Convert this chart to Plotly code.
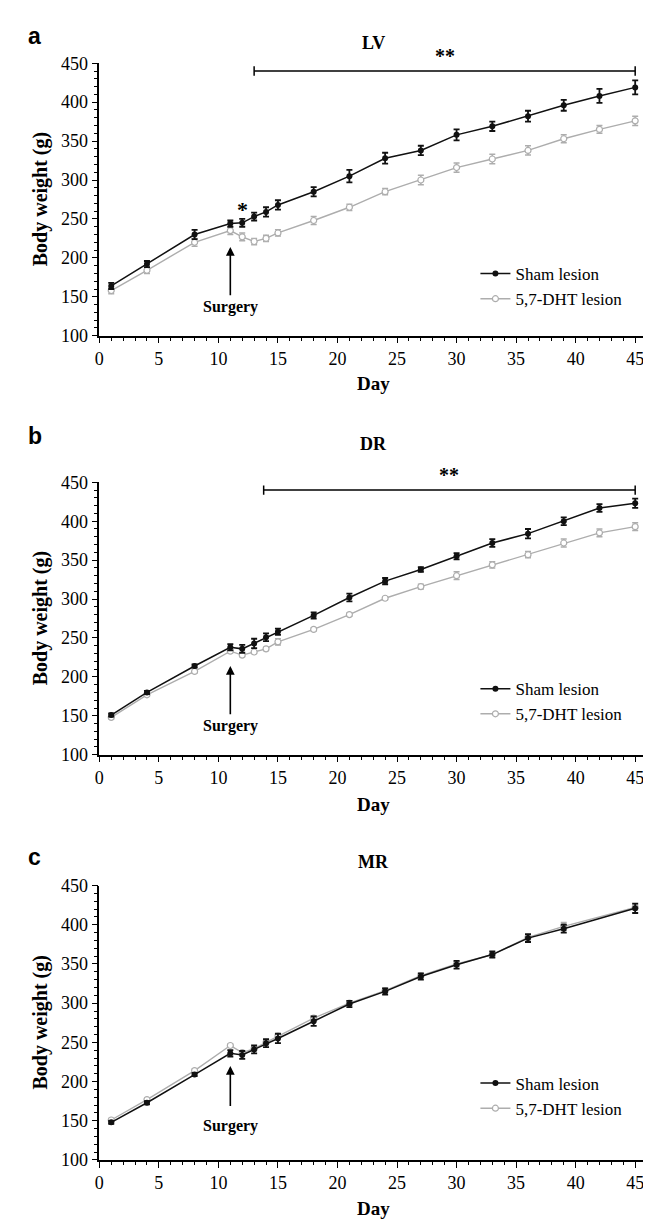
import plotly.graph_objects as go

W, H = 651, 1222

# ---------------- data ----------------
days_ab = [1, 4, 8, 11, 12, 13, 14, 15, 18, 21, 24, 27, 30, 33, 36, 39, 42, 45]
days_c = [1, 4, 8, 11, 12, 13, 14, 15, 18, 21, 24, 27, 30, 33, 36, 39, 45]

sham_lv = [164, 192, 230, 244, 245, 253, 259, 268, 285, 305, 328, 338, 358, 369, 382, 396, 408, 419]
sham_lv_err = [4, 4, 6, 4, 5, 5, 6, 6, 6, 8, 7, 6, 7, 6, 7, 7, 9, 9]
dht_lv = [158, 184, 220, 235, 227, 221, 225, 232, 248, 265, 285, 300, 316, 327, 338, 353, 365, 376]
dht_lv_err = [4, 4, 5, 5, 5, 4, 4, 4, 5, 4, 4, 6, 6, 6, 6, 5, 5, 6]

sham_dr = [151, 180, 214, 238, 236, 243, 251, 258, 279, 302, 323, 338, 355, 372, 384, 400, 417, 423]
sham_dr_err = [2, 2, 2, 4, 5, 6, 5, 4, 4, 5, 4, 3, 4, 5, 6, 5, 5, 6]
dht_dr = [148, 177, 207, 233, 228, 232, 236, 245, 261, 280, 301, 316, 330, 344, 357, 372, 385, 393]
dht_dr_err = [2, 2, 2, 2, 2, 2, 2, 4, 2, 2, 2, 3, 5, 4, 4, 5, 5, 5]

sham_mr = [148, 173, 209, 236, 234, 241, 249, 255, 277, 299, 315, 334, 349, 362, 383, 395, 421]
sham_mr_err = [2, 2, 2, 4, 5, 5, 5, 6, 6, 4, 4, 4, 5, 4, 5, 5, 6]
dht_mr = [151, 177, 214, 246, 237, 242, 250, 258, 281, 300, 316, 335, 350, 362, 384, 398, 422]
dht_mr_err = [2, 2, 2, 2, 2, 2, 3, 3, 3, 3, 3, 3, 3, 3, 3, 5, 3]

panel_letters = ["a", "b", "c"]
panel_titles = ["LV", "DR", "MR"]
series_names = ["Sham lesion", "5,7-DHT lesion"]
surgery_day = 11
sig_bars = [(13, 45, 440, "**"), (13.8, 45, 440, "**"), None]
single_star = [(12, 262, "*"), None, None]

y_ticks = [100, 150, 200, 250, 300, 350, 400, 450]
x_ticks = [0, 5, 10, 15, 20, 25, 30, 35, 40, 45]

# ---------------- layout geometry (pixels) ----------------
PX_L, PX_R = 87, 639
panel_px = [(46, 323), (472, 749), (882, 1161)]
letter_y = [18, 425, 853]
title_y = [25, 433, 858]
day_y = [372, 800, 1210]
legend_top = [242, 664, 1065]

BLACK = "#111111"
GRAY = "#adadad"
SERIF = "Liberation Serif, Times New Roman, serif"


def px_x(p):
    return p / W


def px_y(p):
    return 1 - p / H


panels = [
    (days_ab, sham_lv, sham_lv_err, dht_lv, dht_lv_err),
    (days_ab, sham_dr, sham_dr_err, dht_dr, dht_dr_err),
    (days_c, sham_mr, sham_mr_err, dht_mr, dht_mr_err),
]

fig = go.Figure()
annotations = []
shapes = []
layout = {}

for i, (days, sham, sham_e, dht, dht_e) in enumerate(panels):
    n = "" if i == 0 else str(i + 1)
    xa, ya = "x" + n, "y" + n
    lg = "legend" + n
    fig.add_trace(go.Scatter(
        x=days, y=dht, mode="lines+markers", name=series_names[1],
        xaxis=xa, yaxis=ya, legend=lg, legendgroup="d%d" % i, legendrank=2,
        line=dict(color=GRAY, width=1.4),
        marker=dict(symbol="circle", size=6, color="white", line=dict(color=GRAY, width=1.2)),
        error_y=dict(type="data", array=dht_e, color=GRAY, thickness=1.5, width=3),
    ))
    fig.add_trace(go.Scatter(
        x=days, y=sham, mode="lines+markers", name=series_names[0],
        xaxis=xa, yaxis=ya, legend=lg, legendgroup="s%d" % i, legendrank=1,
        line=dict(color=BLACK, width=1.5),
        marker=dict(symbol="circle", size=6, color=BLACK),
        error_y=dict(type="data", array=sham_e, color=BLACK, thickness=1.8, width=3),
    ))

    top, bot = panel_px[i]
    layout["xaxis" + n] = dict(
        domain=[px_x(PX_L), px_x(PX_R)], anchor=ya, range=[0, 46],
        tickvals=x_ticks, ticks="outside", ticklen=6, tickwidth=1.3, tickcolor="black",
        showline=True, linecolor="black", linewidth=1.5, showgrid=False, zeroline=False,
        tickfont=dict(family=SERIF, size=18, color="black"),
        minor=dict(dtick=1, ticks="outside", ticklen=3.5, tickwidth=1.1, tickcolor="black", showgrid=False),
    )
    layout["yaxis" + n] = dict(
        domain=[px_y(bot), px_y(top)], anchor=xa, range=[100, 450],
        tickvals=y_ticks, ticks="outside", ticklen=6, tickwidth=1.3, tickcolor="black",
        showline=True, linecolor="black", linewidth=1.5, showgrid=False, zeroline=False,
        tickfont=dict(family=SERIF, size=18, color="black"),
        minor=dict(dtick=10, ticks="outside", ticklen=3.5, tickwidth=1.1, tickcolor="black", showgrid=False),
    )
    layout[lg] = dict(
        x=px_x(466), y=px_y(legend_top[i]), xanchor="left", yanchor="top",
        bgcolor="rgba(0,0,0,0)", font=dict(family=SERIF, size=17, color="black"),
        tracegroupgap=10, traceorder="normal",
    )

    annotations.append(dict(text="<b>%s</b>" % panel_letters[i], x=px_x(22), y=px_y(letter_y[i]),
                            xref="paper", yref="paper", showarrow=False, xanchor="center", yanchor="middle",
                            font=dict(family="Liberation Sans, Arial, sans-serif", size=23, color="black")))
    annotations.append(dict(text="<b>%s</b>" % panel_titles[i], x=px_x((PX_L + PX_R) / 2), y=px_y(title_y[i]),
                            xref="paper", yref="paper", showarrow=False, xanchor="center", yanchor="middle",
                            font=dict(family=SERIF, size=18, color="black")))
    annotations.append(dict(text="<b>Day</b>", x=px_x((PX_L + PX_R) / 2), y=px_y(day_y[i]),
                            xref="paper", yref="paper", showarrow=False, xanchor="center", yanchor="middle",
                            font=dict(family=SERIF, size=19, color="black")))
    annotations.append(dict(text="<b>Body weight (g)</b>", x=px_x(28), y=px_y((top + bot) / 2),
                            xref="paper", yref="paper", showarrow=False, textangle=-90,
                            xanchor="center", yanchor="middle",
                            font=dict(family=SERIF, size=20, color="black")))

    head, tail, txt = (214, 150, 137) if i < 2 else (220, 167, 143)
    annotations.append(dict(x=surgery_day, y=head, ax=surgery_day, ay=tail, xref=xa, yref=ya,
                            axref=xa, ayref=ya, showarrow=True, arrowhead=2, arrowsize=1.1,
                            arrowwidth=1.6, arrowcolor="black", text=""))
    annotations.append(dict(x=surgery_day, y=txt, xref=xa, yref=ya, text="<b>Surgery</b>",
                            showarrow=False, xanchor="center", yanchor="middle",
                            font=dict(family=SERIF, size=16, color="black")))

    if sig_bars[i]:
        x0, x1, yb, lab = sig_bars[i]
        shapes.append(dict(type="line", xref=xa, yref=ya, x0=x0, x1=x1, y0=yb, y1=yb,
                           line=dict(color="black", width=1.5)))
        for xe in (x0, x1):
            shapes.append(dict(type="line", xref=xa, yref=ya, x0=xe, x1=xe, y0=yb - 6, y1=yb + 6,
                               line=dict(color="black", width=1.5)))
        annotations.append(dict(x=(x0 + x1) / 2, y=yb + 3, xref=xa, yref=ya, text="<b>**</b>",
                                showarrow=False, xanchor="center", yanchor="bottom",
                                font=dict(family=SERIF, size=20, color="black")))
    if single_star[i]:
        sx, sy, st = single_star[i]
        annotations.append(dict(x=sx, y=sy, xref=xa, yref=ya, text="<b>%s</b>" % st,
                                showarrow=False, xanchor="center", yanchor="middle",
                                font=dict(family=SERIF, size=22, color="black")))

fig.update_layout(
    width=W, height=H, margin=dict(l=0, r=0, t=0, b=0),
    paper_bgcolor="white", plot_bgcolor="white",
    annotations=annotations, shapes=shapes, showlegend=True,
    **layout,
)

fig.write_html("out.html")
